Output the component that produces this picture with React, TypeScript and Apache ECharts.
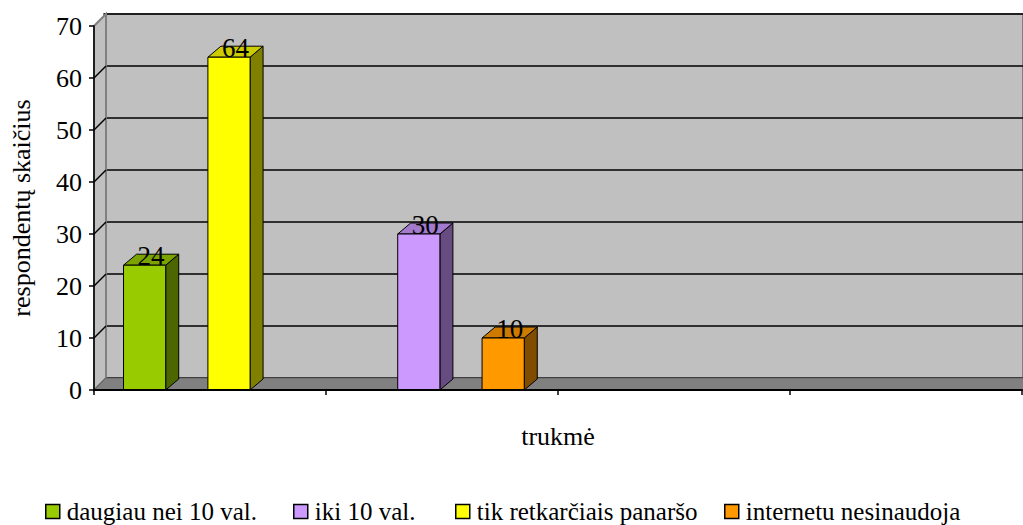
import React, { useEffect, useRef } from "react";
import * as echarts from "echarts";

const categories = ["", "", "", ""];
const yTicks = [0, 10, 20, 30, 40, 50, 60, 70];
const seriesNames = ["daugiau nei 10 val.", "iki 10 val.", "tik retkarčiais panaršo", "internetu nesinaudoja"];
const daugiau = [24, null, null, null];
const iki = [null, 30, null, null];
const tik = [64, null, null, null];
const internetu = [null, 10, null, null];
const seriesValues = [daugiau, iki, tik, internetu];
const frontColors = ["#99CC00", "#CC99FF", "#FFFF00", "#FF9900"];
const sideColors = ["#4C6600", "#664C80", "#808000", "#804C00"];
const topColors = ["#7AA300", "#A37ACC", "#CCCC00", "#CC7A00"];
const legendLefts = [45, 293, 455, 724];

const FONT = "Liberation Serif";
const D = 12;
const BDX = 13;
const BDY = 11;

export default function App() {
  const ref = useRef<HTMLDivElement>(null);
  useEffect(() => {
    const chart = echarts.init(ref.current!, null, { renderer: "svg" });

    const barSeries = seriesValues.map((vals, s) => ({
      type: "custom",
      name: seriesNames[s],
      xAxisIndex: 0,
      yAxisIndex: 0,
      z: 5,
      itemStyle: { color: frontColors[s], borderColor: "#000", borderWidth: 1 },
      data: vals
        .map((v, i) => (v == null ? null : [i, v]))
        .filter((d) => d != null),
      renderItem: (params: any, api: any) => {
        const ci = api.value(0);
        const v = api.value(1);
        const top = api.coord([ci, v]);
        const base = api.coord([ci, 0]);
        const cw = api.size([1, 0])[0];
        const bw = cw / 5.5;
        const x0 = base[0] - cw / 2 + 0.7 * bw + s * bw;
        const x1 = x0 + bw;
        const yt = top[1];
        const yb = base[1];
        return {
          type: "group",
          children: [
            {
              type: "polygon",
              shape: { points: [[x1, yt], [x1 + BDX, yt - BDY], [x1 + BDX, yb - BDY], [x1, yb]] },
              style: { fill: sideColors[s], stroke: "#000", lineWidth: 1 },
            },
            {
              type: "polygon",
              shape: { points: [[x0, yt], [x0 + BDX, yt - BDY], [x1 + BDX, yt - BDY], [x1, yt]] },
              style: { fill: topColors[s], stroke: "#000", lineWidth: 1 },
            },
            {
              type: "rect",
              shape: { x: x0, y: yt, width: bw, height: yb - yt },
              style: { fill: frontColors[s], stroke: "#000", lineWidth: 1 },
            },
            {
              type: "text",
              style: {
                text: String(v),
                x: x0 + bw / 2 + BDX / 2,
                y: yt - 9,
                align: "center",
                verticalAlign: "middle",
                fontFamily: FONT,
                fontSize: 27,
                fill: "#000",
              },
            },
          ],
        };
      },
    }));

    const frameSeries = {
      type: "custom",
      name: "frame",
      xAxisIndex: 0,
      yAxisIndex: 0,
      z: 1,
      silent: true,
      data: yTicks.map((v) => [0, v]),
      renderItem: (params: any, api: any) => {
        const v = api.value(1);
        const cw = api.size([1, 0])[0];
        const p0 = api.coord([0, 0]);
        const pTop = api.coord([0, yTicks[yTicks.length - 1]]);
        const pLast = api.coord([categories.length - 1, 0]);
        const left = p0[0] - cw / 2;
        const right = pLast[0] + cw / 2;
        const y = api.coord([0, v])[1];
        const children: any[] = [];
        if (params.dataIndex === 0) {
          children.push({
            type: "polygon",
            shape: { points: [[left, p0[1]], [left, pTop[1]], [left + D, pTop[1] - D], [left + D, p0[1] - D]] },
            style: { fill: "#C0C0C0", stroke: "#808080", lineWidth: 2 },
          });
          children.push({
            type: "polygon",
            shape: { points: [[left, p0[1]], [left + D, p0[1] - D], [right + D + 20, p0[1] - D], [right + 20, p0[1]]] },
            style: { fill: "#808080", stroke: "#606060", lineWidth: 1 },
          });
        }
        if (v !== 0 && v !== yTicks[yTicks.length - 1]) {
          children.push({
            type: "line",
            shape: { x1: left, y1: y, x2: left + D, y2: y - D },
            style: { stroke: "#000", lineWidth: 1.5 },
          });
        }
        return { type: "group", children };
      },
    };

    const legends = seriesNames.map((name, i) => ({
      data: [name],
      left: legendLefts[i],
      top: 499,
      padding: 0,
      icon: "rect",
      itemWidth: 14,
      itemHeight: 14,
      selectedMode: false,
      textStyle: { fontFamily: FONT, fontSize: 25, color: "#000", padding: [0, 0, 0, 2] },
      itemStyle: { borderColor: "#000", borderWidth: 1.5 },
    }));

    chart.setOption({
      animation: false,
      backgroundColor: "#fff",
      textStyle: { fontFamily: FONT, color: "#000" },
      grid: [
        { left: 92, right: 1, top: 26, bottom: 135, containLabel: false },
        {
          left: 104,
          right: -11,
          top: 14,
          bottom: 147,
          show: true,
          backgroundColor: "#C0C0C0",
          borderColor: "#808080",
          borderWidth: 2,
          containLabel: false,
        },
      ],
      xAxis: [
        {
          type: "category",
          gridIndex: 0,
          data: categories,
          boundaryGap: true,
          name: "trukmė",
          nameLocation: "middle",
          nameGap: 33,
          nameTextStyle: { fontFamily: FONT, fontSize: 26, color: "#000" },
          axisLine: { show: true, lineStyle: { color: "#000", width: 2 } },
          axisTick: { show: true, length: 5, lineStyle: { color: "#000", width: 1.5 } },
          axisLabel: { show: false },
          splitLine: { show: false },
          z: 6,
        },
        {
          type: "category",
          gridIndex: 1,
          data: categories,
          show: false,
        },
      ],
      yAxis: [
        {
          type: "value",
          gridIndex: 0,
          min: 0,
          max: 70,
          interval: 10,
          name: "respondentų skaičius",
          nameLocation: "middle",
          nameRotate: 90,
          nameGap: 60,
          nameTextStyle: { fontFamily: FONT, fontSize: 26, color: "#000" },
          axisLine: { show: true, lineStyle: { color: "#000", width: 1.5 } },
          axisTick: { show: true, length: 5, lineStyle: { color: "#000", width: 1.5 } },
          axisLabel: { fontFamily: FONT, fontSize: 26, color: "#000", margin: 12 },
          splitLine: { show: false },
          z: 6,
        },
        {
          type: "value",
          gridIndex: 1,
          min: 0,
          max: 70,
          interval: 10,
          axisLine: { show: false },
          axisTick: { show: false },
          axisLabel: { show: false },
          splitLine: { show: true, lineStyle: { color: "#000", width: 1.5 } },
        },
      ],
      legend: legends,
      series: [frameSeries, ...barSeries],
    });
    return () => chart.dispose();
  }, []);
  return <div ref={ref} style={{ position: "fixed", left: 0, top: 0, width: 1023, height: 525 }} />;
}
